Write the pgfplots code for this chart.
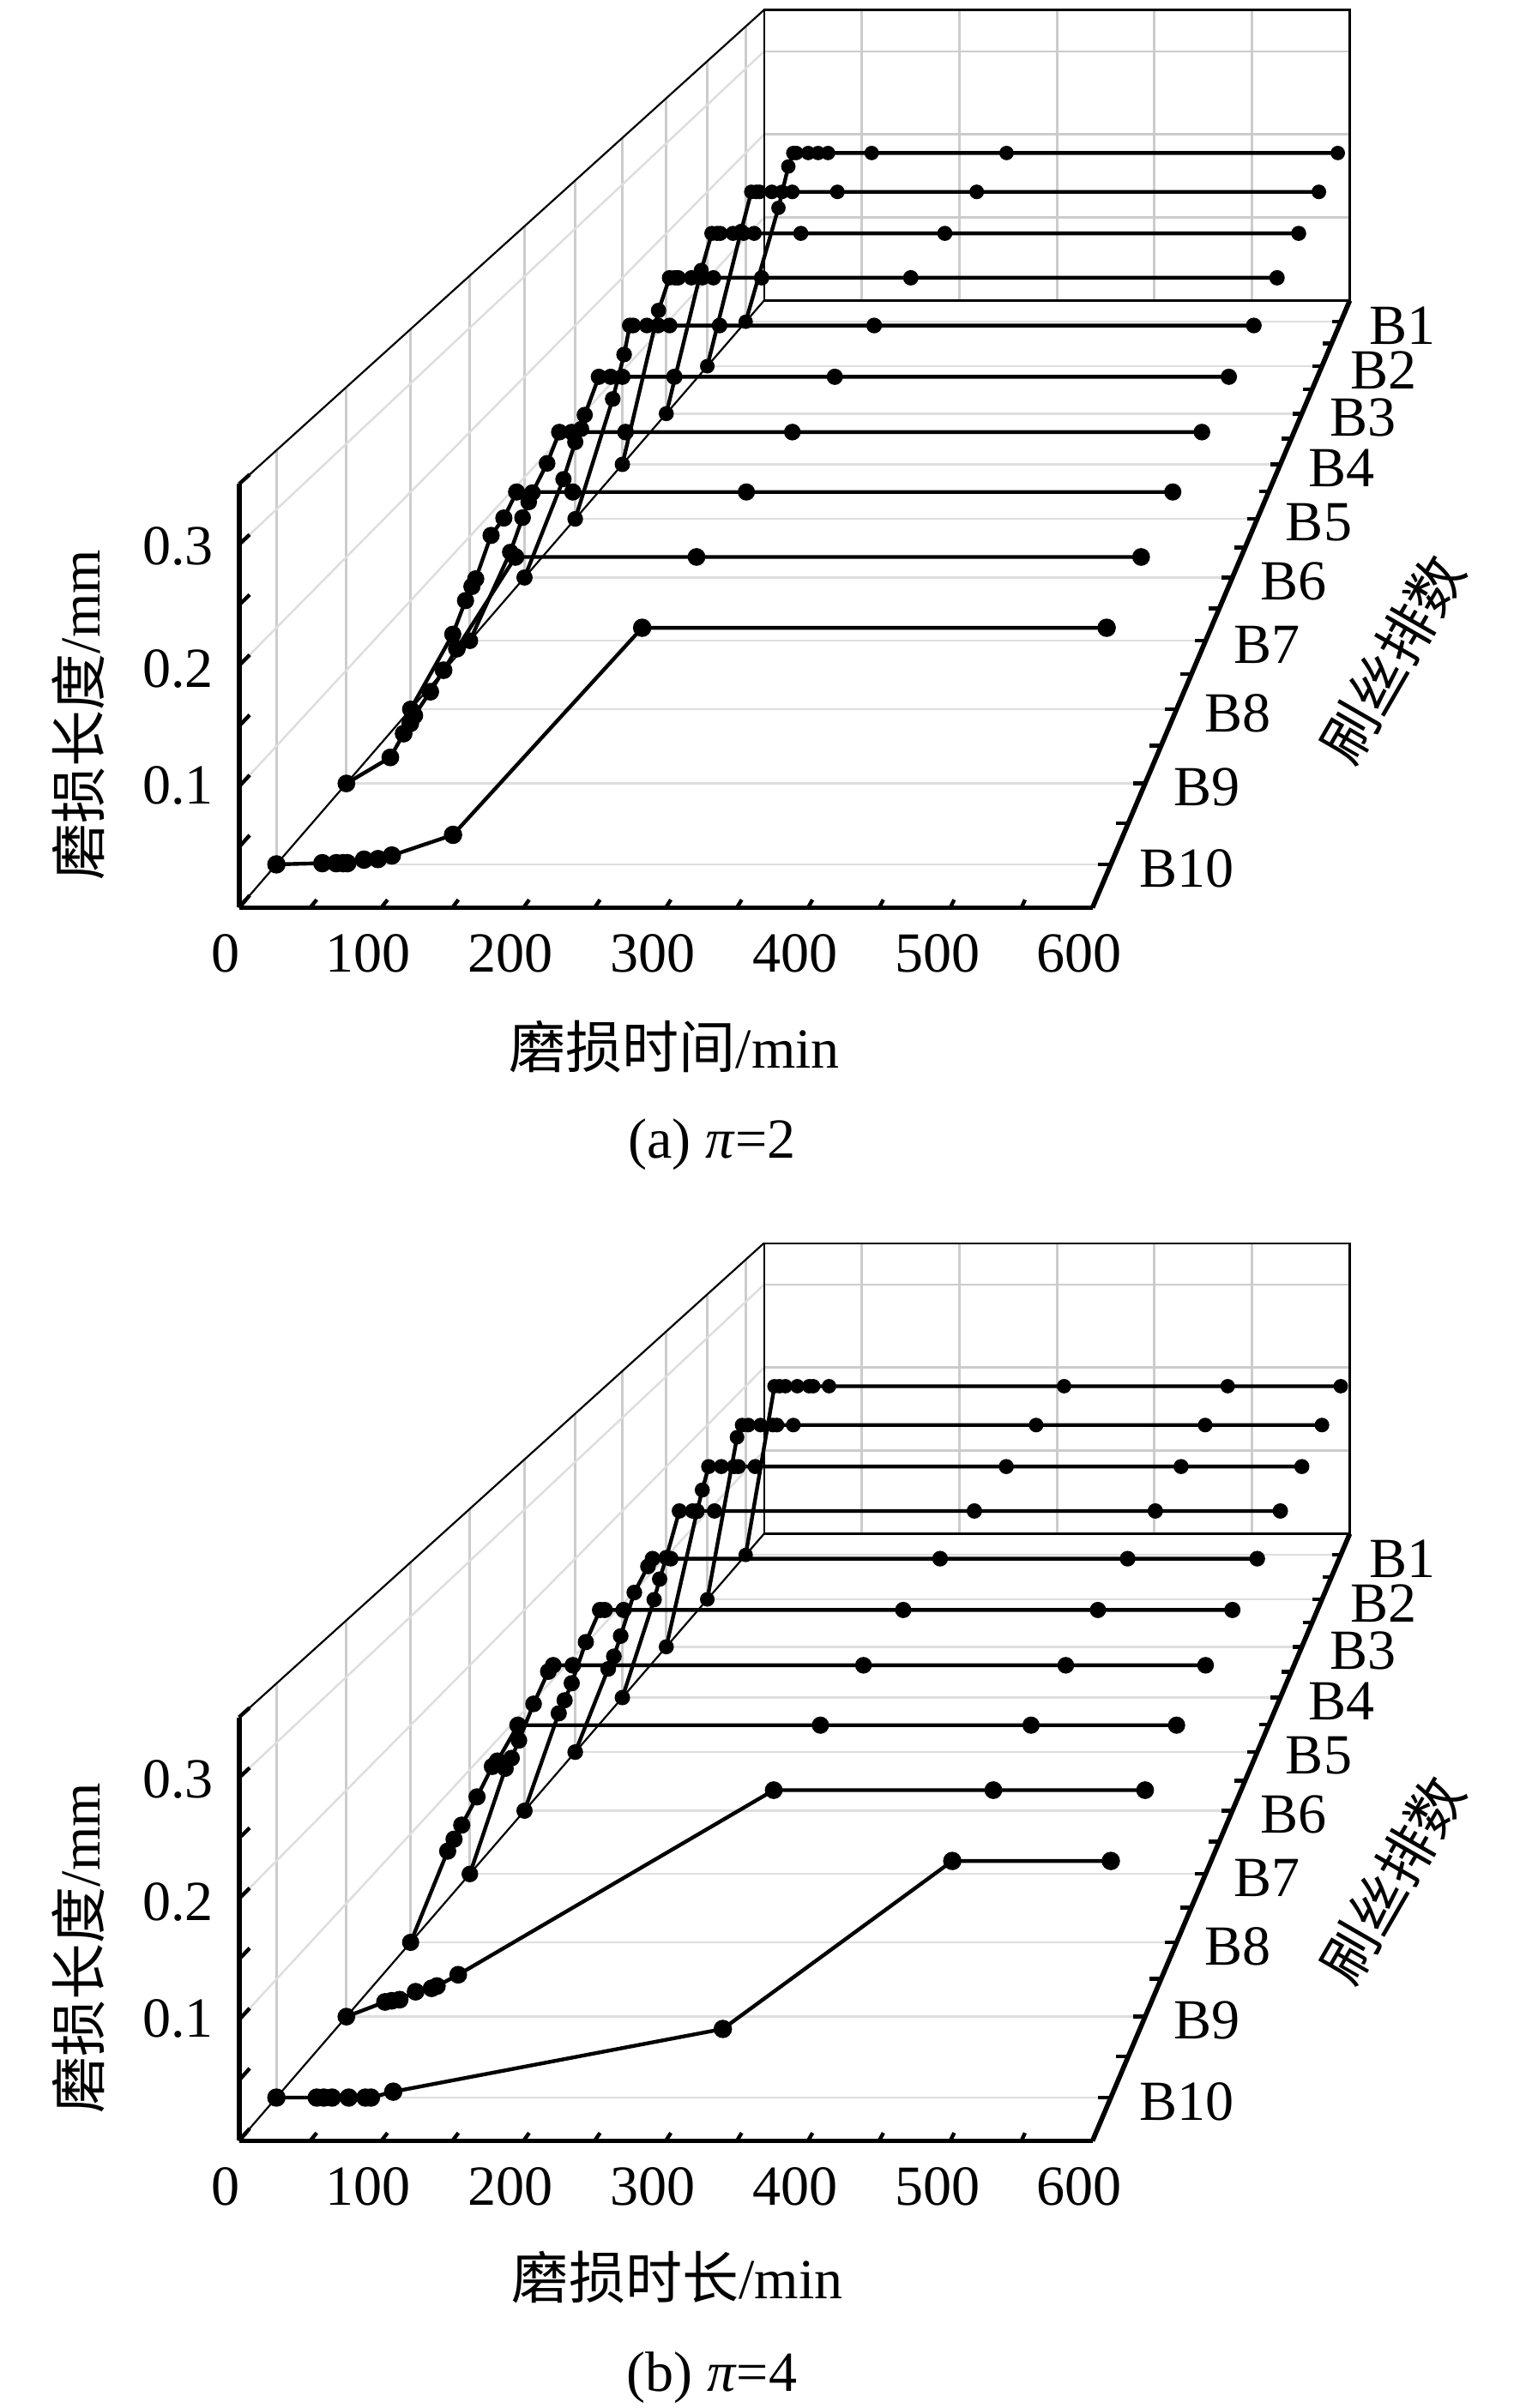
\documentclass[border=0pt]{standalone}
\usepackage{pgfplots}
\pgfplotsset{compat=1.18}
\usepackage{fontspec}
\setmainfont{Liberation Serif}
\newfontfamily\cjk{Noto Sans CJK SC}
\newcommand\lbl{\fontsize{10.5pt}{12pt}\selectfont}
\pgfplotsset{
  table/row sep=\\,
  table/PA/.style={x expr={1245-(1089.4-0.926*\thisrow{t})/(1+0.04571*(#1))},
    y expr={-669+(1260-788*\thisrow{w})/(1+0.04571*(#1))}},
  table/PB/.style={x expr={1245-(1089.4-0.926*\thisrow{t})/(1+0.04571*(#1))},
    y expr={134+(1260-788*\thisrow{w})/(1+0.04571*(#1))}},
  grd/.style={draw=black!20, line width=0.45pt},
  grl/.style={draw=black!13, line width=0.4pt},
  thn/.style={black, line width=0.35pt},
  thk/.style={black, line width=0.9pt},
  tck/.style={black, line width=0.7pt},
  dat/.style={black, line width=0.7pt, mark=*, mark size=#1, mark options={fill=black}},
}
% grid and thin frame of one panel (#1 = PA or PB)
\newcommand\gridP[1]{%
  \pgfplotsinvokeforeach{100,200,300,400,500}{\addplot[grd] table[#1=10]{t w\\ ##1 0\\ ##1 0.35\\};}
  \pgfplotsinvokeforeach{0.1,0.2,0.3}{\addplot[grd] table[#1=10]{t w\\ 0 ##1\\ 600 ##1\\};}
  \pgfplotsinvokeforeach{0.5,1.5,2.5,3.5,4.5,5.5,6.5,7.5,8.5,9.5}{%
    \addplot[grd] table[#1=##1]{t w\\ 0 0\\ 0 0.35\\};
    \addplot[grl] table[#1=##1]{t w\\ 0 0\\ 600 0\\};}
  \pgfplotsinvokeforeach{0.1,0.2,0.3}{\addplot[grl] table[#1=\thisrow{d}]{t d w\\ 0 0 ##1\\ 0 10 ##1\\};}
  \addplot[thn] table[#1=10]{t w\\ 0 0\\ 600 0\\ 600 0.35\\ 0 0.35\\ 0 0\\};
  \addplot[thn] table[#1=\thisrow{d}]{t d w\\ 0 0 0\\ 0 10 0\\};
  \addplot[thn] table[#1=\thisrow{d}]{t d w\\ 0 0 0.35\\ 0 10 0.35\\};
}
% thick axes and ticks of one panel
\newcommand\axesP[1]{%
  \addplot[thk] table[#1=0]{t w\\ 0 0\\ 600 0\\};
  \addplot[thk] table[#1=0]{t w\\ 0 0\\ 0 0.35\\};
  \addplot[thk] table[#1=\thisrow{d}]{t d w\\ 600 0 0\\ 600 10 0\\};
  \pgfplotsinvokeforeach{0,50,100,150,200,250,300,350,400,450,500,550,600}{%
    \addplot[tck] table[#1=\thisrow{d}]{t d w\\ ##1 0 0\\ ##1 0.09 0\\};}
  \pgfplotsinvokeforeach{0,0.05,0.1,0.15,0.2,0.25,0.3,0.35}{%
    \addplot[tck] table[#1=\thisrow{d}]{t d w\\ 0 0 ##1\\ 0 0.14 ##1\\};}
  \pgfplotsinvokeforeach{0.5,1,1.5,2,2.5,3,3.5,4,4.5,5,5.5,6,6.5,7,7.5,8,8.5,9,9.5}{%
    \addplot[tck] table[#1=##1]{t w\\ 600 0\\ 591 0\\};}
}
\newcommand\drow[4]{\addplot[dat=#3] table[#1=#2]{#4};}
\begin{document}
\begin{tikzpicture}
\begin{axis}[name=ax, x=0.1mm, y=0.1mm, xmin=0, xmax=989, ymin=0, ymax=1568,
  y dir=reverse, hide axis, clip=false]
%================ panel (a) =================
\gridP{PA}
\drow{PA}{9.5}{0.98pt}{t w\\ 0 0\\ 33 0.135\\ 43 0.184\\ 48 0.2\\ 51 0.2\\ 63 0.2\\ 73 0.2\\ 83 0.2\\ 127 0.2\\ 263 0.2\\ 597 0.2\\}
\drow{PA}{8.5}{1.0pt}{t w\\ 0 0\\ 33 0.155\\ 43 0.2\\ 48 0.2\\ 51 0.2\\ 63 0.2\\ 73 0.2\\ 83 0.2\\ 127 0.2\\ 263 0.2\\ 597 0.2\\}
\drow{PA}{7.5}{1.04pt}{t w\\ 0 0\\ 33 0.159\\ 43 0.2\\ 48 0.2\\ 51 0.2\\ 63 0.2\\ 73 0.2\\ 83 0.2\\ 127 0.2\\ 263 0.2\\ 597 0.2\\}
\drow{PA}{6.5}{1.07pt}{t w\\ 0 0\\ 33 0.165\\ 43 0.2\\ 48 0.2\\ 51 0.2\\ 63 0.2\\ 73 0.2\\ 83 0.2\\ 127 0.2\\ 263 0.2\\ 597 0.2\\}
\drow{PA}{5.5}{1.1pt}{t w\\ 0 0\\ 33 0.124\\ 43 0.17\\ 48 0.2\\ 51 0.2\\ 63 0.2\\ 73 0.2\\ 83 0.2\\ 127 0.2\\ 263 0.2\\ 597 0.2\\}
\drow{PA}{4.5}{1.15pt}{t w\\ 0 0\\ 33 0.098\\ 43 0.135\\ 48 0.148\\ 51 0.162\\ 63 0.2\\ 73 0.2\\ 83 0.2\\ 127 0.2\\ 263 0.2\\ 597 0.2\\}
\drow{PA}{3.5}{1.19pt}{t w\\ 0 0\\ 33 0.085\\ 43 0.118\\ 48 0.133\\ 51 0.142\\ 63 0.17\\ 73 0.2\\ 83 0.2\\ 127 0.2\\ 263 0.2\\ 597 0.2\\}
\drow{PA}{2.5}{1.24pt}{t w\\ 0 0\\ 33 0.069\\ 43 0.1\\ 48 0.113\\ 51 0.12\\ 63 0.16\\ 73 0.176\\ 83 0.2\\ 127 0.2\\ 263 0.2\\ 597 0.2\\}
\drow{PA}{1.5}{1.29pt}{t w\\ 0 0\\ 33 0.023\\ 43 0.044\\ 48 0.053\\ 51 0.06\\ 63 0.081\\ 73 0.1\\ 83 0.119\\ 127 0.2\\ 263 0.2\\ 597 0.2\\}
\drow{PA}{0.5}{1.35pt}{t w\\ 0 0\\ 33 0.001\\ 43 0.001\\ 48 0.001\\ 51 0.001\\ 63 0.004\\ 73 0.0045\\ 83 0.0075\\ 127 0.025\\ 263 0.2\\ 597 0.2\\}
\axesP{PA}
%================ panel (b) =================
\gridP{PB}
\drow{PB}{9.5}{0.98pt}{t w\\ 0 0\\ 29 0.2\\ 34 0.2\\ 40 0.2\\ 52 0.2\\ 64 0.2\\ 68 0.2\\ 84 0.2\\ 321 0.2\\ 486 0.2\\ 600 0.2\\}
\drow{PB}{8.5}{1.0pt}{t w\\ 0 0\\ 29 0.186\\ 34 0.2\\ 40 0.2\\ 52 0.2\\ 64 0.2\\ 68 0.2\\ 84 0.2\\ 321 0.2\\ 486 0.2\\ 600 0.2\\}
\drow{PB}{7.5}{1.04pt}{t w\\ 0 0\\ 29 0.15\\ 34 0.174\\ 40 0.2\\ 52 0.2\\ 64 0.2\\ 68 0.2\\ 84 0.2\\ 321 0.2\\ 486 0.2\\ 600 0.2\\}
\drow{PB}{6.5}{1.07pt}{t w\\ 0 0\\ 29 0.105\\ 34 0.127\\ 40 0.15\\ 52 0.2\\ 64 0.2\\ 68 0.2\\ 84 0.2\\ 321 0.2\\ 486 0.2\\ 600 0.2\\}
\drow{PB}{5.5}{1.1pt}{t w\\ 0 0\\ 29 0.086\\ 34 0.099\\ 40 0.12\\ 52 0.165\\ 64 0.192\\ 68 0.2\\ 84 0.2\\ 321 0.2\\ 486 0.2\\ 600 0.2\\}
\drow{PB}{4.5}{1.15pt}{t w\\ 0 0\\ 29 0.097\\ 34 0.11\\ 40 0.127\\ 52 0.168\\ 64 0.2\\ 68 0.2\\ 84 0.2\\ 321 0.2\\ 486 0.2\\ 600 0.2\\}
\drow{PB}{3.5}{1.19pt}{t w\\ 0 0\\ 29 0.101\\ 34 0.111\\ 40 0.128\\ 52 0.163\\ 64 0.194\\ 68 0.2\\ 84 0.2\\ 321 0.2\\ 486 0.2\\ 600 0.2\\}
\drow{PB}{2.5}{1.24pt}{t w\\ 0 0\\ 29 0.084\\ 34 0.095\\ 40 0.108\\ 52 0.134\\ 64 0.162\\ 68 0.167\\ 84 0.2\\ 321 0.2\\ 486 0.2\\ 600 0.2\\}
\drow{PB}{1.5}{1.29pt}{t w\\ 0 0\\ 29 0.013\\ 34 0.014\\ 40 0.015\\ 52 0.022\\ 64 0.025\\ 68 0.027\\ 84 0.037\\ 321 0.2\\ 486 0.2\\ 600 0.2\\}
\drow{PB}{0.5}{1.35pt}{t w\\ 0 0\\ 29 0\\ 34 0\\ 40 0\\ 52 0\\ 64 0\\ 68 0\\ 84 0.005\\ 321 0.058\\ 486 0.2\\ 600 0.2\\}
\axesP{PB}
%================ labels =================
\begin{scope}[every node/.style={inner sep=0pt, font=\lbl}]
% panel (a)
\node at (axis cs:147.1,620.7) {0};
\node at (axis cs:239.7,620.7) {100};
\node at (axis cs:332.3,620.7) {200};
\node at (axis cs:424.9,620.7) {300};
\node at (axis cs:517.5,620.7) {400};
\node at (axis cs:610.1,620.7) {500};
\node at (axis cs:702.7,620.7) {600};
\node[anchor=east] at (axis cs:139.7,511.7) {0.1};
\node[anchor=east] at (axis cs:139.7,435.4) {0.2};
\node[anchor=east] at (axis cs:139.7,355.7) {0.3};
\node[anchor=west] at (axis cs:890.7,212) {B1};
\node[anchor=west] at (axis cs:878.4,240.9) {B2};
\node[anchor=west] at (axis cs:865.3,271.8) {B3};
\node[anchor=west] at (axis cs:851.3,304.9) {B4};
\node[anchor=west] at (axis cs:836.3,340.4) {B5};
\node[anchor=west] at (axis cs:820.1,378.5) {B6};
\node[anchor=west] at (axis cs:802.7,419.7) {B7};
\node[anchor=west] at (axis cs:783.8,464.3) {B8};
\node[anchor=west] at (axis cs:763.3,512.6) {B9};
\node[anchor=west] at (axis cs:740.9,565.3) {B10};
\node[rotate=90] at (axis cs:51,465.5) {{\cjk 磨损长度}/mm};
\node[rotate=60] at (axis cs:906,429) {\cjk 刷丝排数};
\node at (axis cs:439,681.4) {{\cjk 磨损时间}/min};
\node at (axis cs:463.5,745) {(a) \textit{π}=2};
% panel (b)
\node at (axis cs:147.1,1423.7) {0};
\node at (axis cs:239.7,1423.7) {100};
\node at (axis cs:332.3,1423.7) {200};
\node at (axis cs:424.9,1423.7) {300};
\node at (axis cs:517.5,1423.7) {400};
\node at (axis cs:610.1,1423.7) {500};
\node at (axis cs:702.7,1423.7) {600};
\node[anchor=east] at (axis cs:139.7,1314.7) {0.1};
\node[anchor=east] at (axis cs:139.7,1238.4) {0.2};
\node[anchor=east] at (axis cs:139.7,1158.7) {0.3};
\node[anchor=west] at (axis cs:890.7,1015) {B1};
\node[anchor=west] at (axis cs:878.4,1043.9) {B2};
\node[anchor=west] at (axis cs:865.3,1074.8) {B3};
\node[anchor=west] at (axis cs:851.3,1107.9) {B4};
\node[anchor=west] at (axis cs:836.3,1143.4) {B5};
\node[anchor=west] at (axis cs:820.1,1181.5) {B6};
\node[anchor=west] at (axis cs:802.7,1222.7) {B7};
\node[anchor=west] at (axis cs:783.8,1267.3) {B8};
\node[anchor=west] at (axis cs:763.3,1315.6) {B9};
\node[anchor=west] at (axis cs:740.9,1368.3) {B10};
\node[rotate=90] at (axis cs:51,1268.5) {{\cjk 磨损长度}/mm};
\node[rotate=60] at (axis cs:906,1224) {\cjk 刷丝排数};
\node at (axis cs:441,1483) {{\cjk 磨损时长}/min};
\node at (axis cs:463.5,1548) {(b) \textit{π}=4};
\end{scope}
\end{axis}
\pgfresetboundingbox
\path (ax.south west) rectangle (ax.north east);
\end{tikzpicture}
\end{document}
